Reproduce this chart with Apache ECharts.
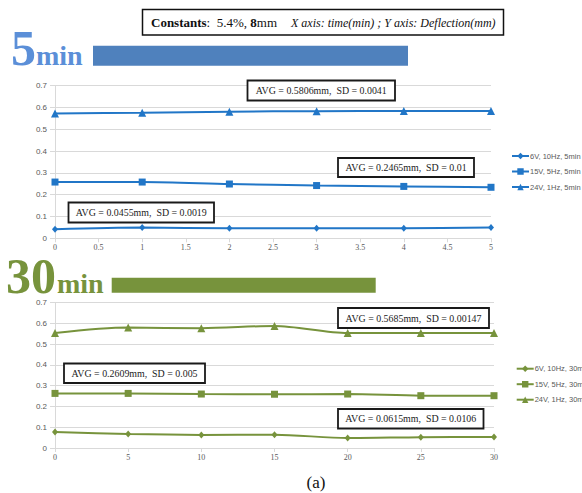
<!DOCTYPE html>
<html><head><meta charset="utf-8">
<script src="https://cdn.jsdelivr.net/npm/echarts@6/dist/echarts.min.js"></script>
<style>html,body{margin:0;padding:0;background:#fff;overflow:hidden}#c{width:582px;height:493px}</style>
</head><body><div id="c"></div>
<script>
// ---- data ----
const time5 = [0, 1, 2, 3, 4, 5];
const v5_6V  = [0.041, 0.049, 0.046, 0.046, 0.046, 0.049];
const v5_15V = [0.258, 0.258, 0.249, 0.242, 0.238, 0.234];
const v5_24V = [0.573, 0.576, 0.581, 0.583, 0.584, 0.584];
const names5 = ['6V, 10Hz, 5min', '15V, 5Hz, 5min', '24V, 1Hz, 5min'];

const time30 = [0, 5, 10, 15, 20, 25, 30];
const v30_6V  = [0.077, 0.067, 0.063, 0.064, 0.048, 0.052, 0.053];
const v30_15V = [0.263, 0.263, 0.260, 0.259, 0.260, 0.252, 0.252];
const v30_24V = [0.554, 0.580, 0.577, 0.588, 0.554, 0.554, 0.554];
const names30 = ['6V, 10Hz, 30min', '15V, 5Hz, 30min', '24V, 1Hz, 30min'];

const yTicks = { min: 0, max: 0.7, interval: 0.1 };
const xTicks5 = { min: 0, max: 5, interval: 0.5 };
const xTicks30 = { min: 0, max: 30, interval: 5 };

const S = '\u00a0 ';
const avgLabels5 = ['AVG = 0.5806mm,' + S + 'SD = 0.0041', 'AVG = 0.2465mm,' + S + 'SD = 0.01', 'AVG = 0.0455mm,' + S + 'SD = 0.0019'];
const avgLabels30 = ['AVG = 0.5685mm,' + S + 'SD = 0.00147', 'AVG = 0.2609mm,' + S + 'SD = 0.005', 'AVG = 0.0615mm,' + S + 'SD = 0.0106'];
const headerBold1 = 'Constants', headerText1 = ':  5.4%, ', headerBold2 = '8', headerText2 = 'mm';
const headerItalic = 'X axis: time(min) ; Y axis: Deflection(mm)';
const caption = '(a)';

// ---- styles ----
const BLUE = '#2176c7', BLUE_T = '#5b8fd8', BLUE_BAR = '#4f81bd';
const GREEN = '#77933c';
const SERIF = '"Liberation Serif", "Times New Roman", serif';
const SANS = '"Liberation Sans", Arial, sans-serif';
const symbols = ['diamond', 'rect', 'triangle'];
const symSizes = [[6, 7], 7, 8];

function pairs(xs, ys) { return xs.map((x, i) => [x, ys[i]]); }

function mkSeries(names, xs, vals, color, idx) {
  return names.map((n, i) => ({
    name: n, type: 'line', xAxisIndex: idx, yAxisIndex: idx,
    data: pairs(xs, vals[i]), smooth: 0.3,
    symbol: symbols[i], symbolSize: symSizes[i],
    lineStyle: { color: color, width: 2 },
    itemStyle: { color: color },
    emphasis: { disabled: true }, animation: false
  }));
}

function yAxis(idx) {
  return {
    type: 'value', gridIndex: idx, min: yTicks.min, max: yTicks.max, interval: yTicks.interval,
    axisLine: { show: true, lineStyle: { color: '#d9d9d9' } },
    axisTick: { show: true, length: 5, lineStyle: { color: '#d9d9d9' } },
    splitLine: { show: true, lineStyle: { color: '#d9d9d9' } },
    axisLabel: { fontSize: 8, color: '#595959', fontFamily: SANS, margin: 8 }
  };
}
function xAxis(idx, t) {
  return {
    type: 'value', gridIndex: idx, min: t.min, max: t.max, interval: t.interval,
    axisLine: { show: true, onZero: false, lineStyle: { color: '#d9d9d9' } },
    axisTick: { show: true, length: 4, lineStyle: { color: '#d9d9d9' } },
    splitLine: { show: false },
    axisLabel: { fontSize: 8, color: '#595959', fontFamily: SERIF, margin: 5 }
  };
}

function box(x, y, w, h, label) {
  return [
    { type: 'rect', shape: { x: x, y: y, width: w, height: h }, style: { fill: '#fff', stroke: '#1a1a1a', lineWidth: 1.8 }, z: 100 },
    { type: 'text', x: x + w / 2, y: y + h / 2, z: 101, scaleX: 0.9,
      style: { text: label, fill: '#222', font: '11px ' + SERIF, align: 'center', verticalAlign: 'middle' } }
  ];
}

const boxes5 = [[247.5, 80.5, 147.5, 20], [338, 158, 136, 19], [68.5, 202.5, 145.5, 20]];
const boxes30 = [[338, 308, 151, 20], [64, 363.5, 141, 19.5], [338, 409, 145.5, 19.5]];

let graphic = [];
// header box
graphic.push({ type: 'rect', shape: { x: 142.5, y: 9.5, width: 361, height: 25.5 }, style: { fill: '#fff', stroke: '#111', lineWidth: 1.5 }, z: 100 });
graphic.push({ type: 'text', x: 151, y: 22.5, z: 101, style: {
  text: '{b|' + headerBold1 + '}{n|' + headerText1 + '}{b|' + headerBold2 + '}{n|' + headerText2 + '}',
  verticalAlign: 'middle',
  rich: { b: { fontFamily: SERIF, fontSize: 13, fontWeight: 'bold', fill: '#111' }, n: { fontFamily: SERIF, fontSize: 13, fill: '#111' } }
}});
graphic.push({ type: 'text', x: 291, y: 22.5, z: 101, style: { text: headerItalic, fill: '#111', font: 'italic 12px ' + SERIF, verticalAlign: 'middle' } });
// headings
graphic.push({ type: 'text', x: 11, y: 47.5, style: { text: '5', fill: BLUE_T, font: 'bold 50px ' + SERIF, lineHeight: 36, verticalAlign: 'middle' } });
graphic.push({ type: 'text', x: 36, y: 55.2, style: { text: 'min', fill: BLUE_T, font: 'bold 28px ' + SERIF, lineHeight: 20, verticalAlign: 'middle' } });
graphic.push({ type: 'rect', shape: { x: 93, y: 45.7, width: 315, height: 20 }, style: { fill: BLUE_BAR } });
graphic.push({ type: 'text', x: 6, y: 275.5, style: { text: '30', fill: GREEN, font: 'bold 50px ' + SERIF, lineHeight: 36, verticalAlign: 'middle' } });
graphic.push({ type: 'text', x: 57, y: 283.2, style: { text: 'min', fill: GREEN, font: 'bold 28px ' + SERIF, lineHeight: 20, verticalAlign: 'middle' } });
graphic.push({ type: 'rect', shape: { x: 111.7, y: 277.7, width: 264, height: 15 }, style: { fill: GREEN } });
graphic.push({ type: 'text', x: 316, y: 482, style: { text: caption, fill: '#111', font: '17px ' + SERIF, align: 'center', verticalAlign: 'middle' } });
boxes5.forEach((b, i) => { graphic = graphic.concat(box(b[0], b[1], b[2], b[3], avgLabels5[i])); });
boxes30.forEach((b, i) => { graphic = graphic.concat(box(b[0], b[1], b[2], b[3], avgLabels30[i])); });

const legendBase = { orient: 'vertical', itemWidth: 17, itemHeight: 8, itemGap: 7.5,
  textStyle: { fontSize: 7.5, color: '#595959', fontFamily: SANS, padding: [0, 0, 0, -4] }, selectedMode: false };

const option = {
  backgroundColor: '#fff',
  animation: false,
  grid: [
    { left: 55, top: 85.7, width: 436, height: 152.6 },
    { left: 55, top: 302.7, width: 439, height: 145.3 }
  ],
  xAxis: [xAxis(0, xTicks5), xAxis(1, xTicks30)],
  yAxis: [yAxis(0), yAxis(1)],
  legend: [
    Object.assign({}, legendBase, { data: names5, left: 506, top: 147 }),
    Object.assign({}, legendBase, { data: names30, left: 510.7, top: 359.7 })
  ],
  series: mkSeries(names5, time5, [v5_6V, v5_15V, v5_24V], BLUE, 0)
    .concat(mkSeries(names30, time30, [v30_6V, v30_15V, v30_24V], GREEN, 1)),
  graphic: graphic
};

const chart = echarts.init(document.getElementById('c'), null, { renderer: 'svg' });
chart.setOption(option);
</script>
</body></html>
